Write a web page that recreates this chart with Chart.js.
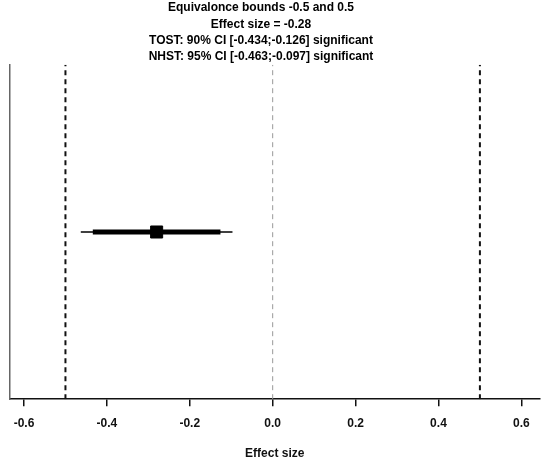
<!DOCTYPE html>
<html>
<head>
<meta charset="utf-8">
<script src="https://cdn.jsdelivr.net/npm/chart.js@4/dist/chart.umd.min.js"></script>
<style>
  html, body { margin: 0; padding: 0; background: #fff; }
  #wrap { width: 550px; height: 463px; }
</style>
</head>
<body>
<div id="wrap"><canvas id="chart"></canvas></div>
<script>
// values
const titleLines = [
    "Equivalonce bounds -0.5 and 0.5",
    "Effect size = -0.28",
    "TOST: 90% CI [-0.434;-0.126] significant",
    "NHST: 95% CI [-0.463;-0.097] significant",
];
const effectSize = -0.28;
const tostCI = [-0.434, -0.126];
const nhstCI = [-0.463, -0.097];
const bounds = [-0.5, 0.5];
const nullValue = 0;
const xTicks = [-0.6, -0.4, -0.2, 0.0, 0.2, 0.4, 0.6];
const xLabel = "Effect size";

const row = 0.5;
const font = { family: "'Liberation Sans', Arial, sans-serif", weight: "bold", size: 12 };

function vline(x, opts) {
    return Object.assign({
        type: "line",
        data: [{ x: x, y: 0 }, { x: x, y: 1 }],
        pointRadius: 0,
        borderColor: "#111",
        borderWidth: 2,
        fill: false,
    }, opts);
}

// the title in the picture sits a little left of the canvas centre
const shiftTitle = {
    id: "shiftTitle",
    afterLayout(chart) {
        let t = chart.titleBlock;
        if (t) { t.left -= 12; t.right -= 12; }
    },
};

let $chart = document.getElementById("chart");

new Chart($chart, {
    type: "scatter",
    plugins: [shiftTitle],
    data: {
        datasets: [
            vline(bounds[0], { borderDash: [5, 4] }),
            vline(bounds[1], { borderDash: [5, 4] }),
            vline(nullValue, { borderDash: [5, 4], borderWidth: 1, borderColor: "#999" }),
            {
                type: "line",
                data: nhstCI.map((x) => ({ x: x, y: row })),
                borderColor: "#000",
                borderWidth: 1.5,
                pointRadius: 0,
            },
            {
                type: "line",
                data: tostCI.map((x) => ({ x: x, y: row })),
                borderColor: "#000",
                borderWidth: 5,
                pointRadius: 0,
            },
            {
                data: [{ x: effectSize, y: row }],
                pointStyle: "rect",
                pointRadius: 8.5,
                backgroundColor: "#000",
                borderColor: "#000",
            },
        ],
    },
    options: {
        responsive: true,
        maintainAspectRatio: false,
        animation: false,
        layout: { padding: { left: 6, right: 10, top: 0, bottom: 0 } },
        plugins: {
            legend: { display: false },
            tooltip: { enabled: false },
            title: {
                display: true,
                text: titleLines,
                color: "#000",
                font: Object.assign({}, font, { lineHeight: 1.35 }),
                padding: { top: 0, bottom: 0 },
            },
        },
        scales: {
            x: {
                type: "linear",
                min: -0.635,
                max: 0.645,
                afterBuildTicks: (axis) => {
                    axis.ticks = xTicks.map((v) => ({ value: v }));
                },
                ticks: {
                    color: "#111",
                    font: font,
                    padding: 10,
                    callback: (v) => Number(v).toFixed(1),
                },
                grid: {
                    drawOnChartArea: false,
                    drawTicks: true,
                    tickLength: 7,
                    color: "#111",
                    lineWidth: 1.5,
                },
                border: { display: true, color: "#111", width: 1.5 },
                title: {
                    display: true,
                    text: xLabel,
                    color: "#111",
                    font: font,
                    padding: { top: 6, bottom: 2 },
                },
            },
            y: {
                type: "linear",
                min: 0,
                max: 1,
                ticks: { display: false },
                grid: { display: false, drawTicks: false },
                border: { display: true, color: "#666", width: 1.5 },
            },
        },
    },
});
</script>
</body>
</html>
